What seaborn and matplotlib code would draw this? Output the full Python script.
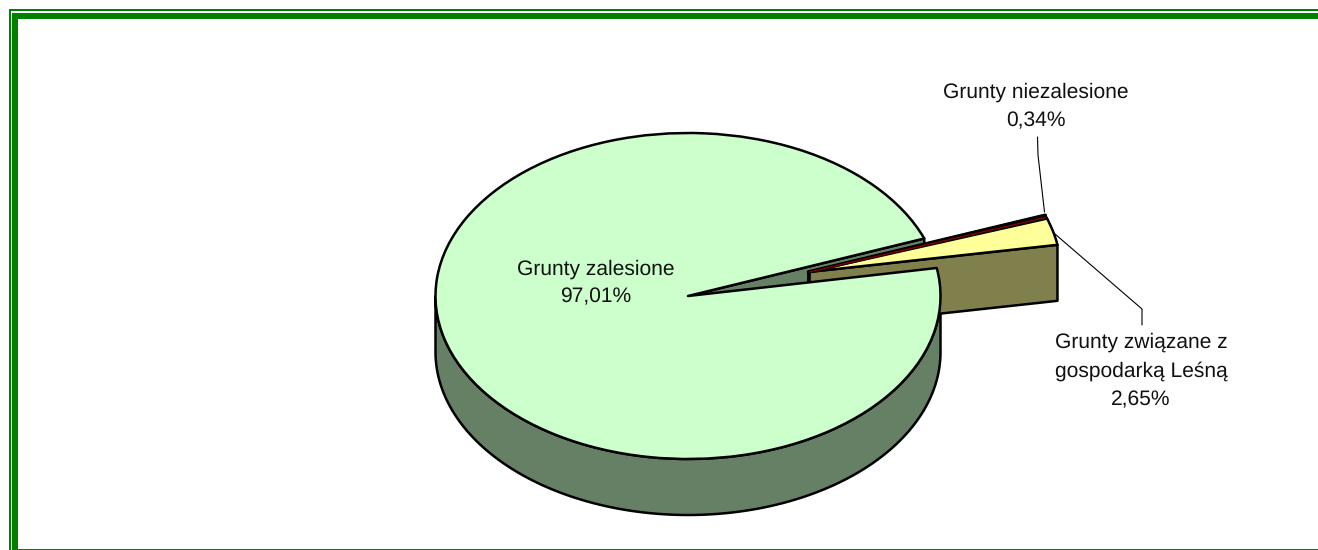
import numpy as np
import matplotlib
matplotlib.use("Agg")
import matplotlib.pyplot as plt
from matplotlib.patches import Wedge, Polygon, Rectangle
import seaborn as sns

# ---- data ----
categories = ["Grunty zalesione", "Grunty niezalesione", "Grunty zwi\u0105zane z\ngospodark\u0105 Le\u015bn\u0105"]
values = [97.01, 0.34, 2.65]
value_labels = ["97,01%", "0,34%", "2,65%"]
top_colors = ["#CCFFCC", "#800000", "#FFFF99"]
wall_colors = ["#668066", "#400000", "#80804D"]

# ---- layout (pixels of the 1318x550 picture) ----
W, H = 1318, 550
CX, CY, RX, RY = 688, 296, 252.5, 163
DEPTH = 56 / RY
OFF = np.array([120.5 / RX, 24 / RY])
START = 9.6   # degrees where the exploded slice starts
GAP_START = 9.9
GREEN = "#008000"
LW = 1.8

sns.set_theme(style="white")
plt.rcParams["font.family"] = ["Liberation Sans", "DejaVu Sans"]
plt.rcParams["text.hinting"] = "none"
plt.rcParams["text.hinting_factor"] = 1

fig = plt.figure(figsize=(W / 100, H / 100), dpi=100, facecolor="white")

# pixel axes: frame, leader lines, labels
px = fig.add_axes([0, 0, 1, 1], zorder=2)
px.set_xlim(0, W); px.set_ylim(H, 0); px.axis("off"); px.patch.set_alpha(0)
for (x, y, w, h) in [(9, 9, W - 9, 2), (9, 9, 2, H - 9), (12, 13, W - 12, 6), (12, 13, 6, H - 13), (18, 549, W - 18, 1)]:
    px.add_patch(Rectangle((x, y), w, h, fc=GREEN, ec="none"))

# unit-circle axes: the pie, stretched into an ellipse by its limits
ax = fig.add_axes([0, 0, 1, 1], zorder=1)
ax.set_xlim(-CX / RX, (W - CX) / RX)
ax.set_ylim((CY - H) / RY, CY / RY)
ax.axis("off")

def pt(a, off=(0, 0), drop=0.0):
    a = np.radians(a)
    return np.array([off[0] + np.cos(a), off[1] + np.sin(a) - drop])

sweeps = 360 * np.array(values) / sum(values)
yellow0, yellow1 = START, START + sweeps[2]
red0, red1 = yellow1, yellow1 + sweeps[1]
big0, big1 = GAP_START + sweeps[2] + sweeps[1], GAP_START + 360

style = dict(ec="black", lw=LW, joinstyle="round")

# big slice: outer wall (front half of the ellipse)
t = np.radians(np.linspace(180, 360, 400))
xs = np.cos(t); ys = np.sin(t)
wall = np.vstack([np.c_[xs, ys], np.c_[xs, ys - DEPTH][::-1]])
ax.add_patch(Polygon(wall, closed=True, fc=wall_colors[0], zorder=2, **style))

# big slice: inner cut wall seen through the gap
ax.add_patch(Polygon([pt(big0), pt(big0, drop=DEPTH), (0, -DEPTH), (0, 0)], closed=True,
                     fc=wall_colors[0], zorder=1, **style))

# exploded slices: cut wall then top faces
ax.add_patch(Polygon([OFF, OFF - [0, DEPTH], pt(yellow0, OFF, DEPTH), pt(yellow0, OFF)], closed=True,
                     fc=wall_colors[2], zorder=3, **style))
ax.add_patch(Wedge(OFF, 1, red0, red1, fc=top_colors[1], zorder=4, **style))
ax.add_patch(Wedge(OFF, 1, yellow0, yellow1, fc=top_colors[2], zorder=4, **style))

# heavy upper edge, red core line and heavy apex edge of the thin slice
tip = pt(red1, OFF)
ax.plot([OFF[0], tip[0]], [OFF[1], tip[1]], color="black", lw=2.6, zorder=4.1, solid_capstyle="round")
core = pt(red0 + 0.3 * sweeps[1], OFF)
ax.plot([OFF[0] + 0.004, core[0] - 0.006], [OFF[1] + 0.001, core[1]], color=top_colors[1], lw=1.0, zorder=4.2)
ax.plot([OFF[0], OFF[0]], [OFF[1], OFF[1] - DEPTH], color="black", lw=2.6, zorder=4.1)

# big slice: top face
ax.add_patch(Wedge((0, 0), 1, big0, big1, fc=top_colors[0], zorder=5, **style))

# leader lines
px.plot([1037.5, 1038, 1044.5], [137, 155, 212], color="black", lw=0.8, zorder=3)
px.plot([1055, 1142, 1142], [234, 309, 325], color="black", lw=0.8, zorder=3)

# labels
txt = dict(ha="center", va="center", fontsize=15.2, color="#111111", linespacing=1.58, zorder=6)
px.text(595.5, 283, f"{categories[0]}\n{value_labels[0]}", **txt)
px.text(1036, 106.5, f"{categories[1]}\n{value_labels[1]}", **txt)
px.text(1141, 371, f"{categories[2]}\n{value_labels[2]}", **txt)

fig.savefig("out.png", dpi=100, facecolor="white")
